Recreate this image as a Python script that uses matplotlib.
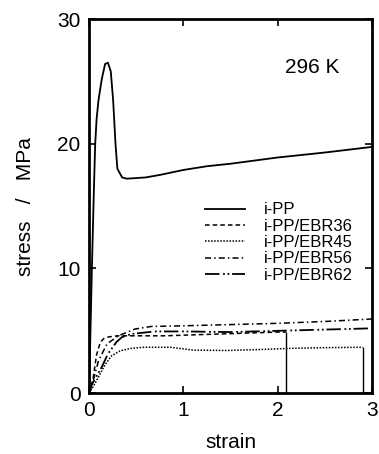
import matplotlib
matplotlib.use('Agg')
import matplotlib.pyplot as plt

plt.rcParams['font.family'] = ['Liberation Sans', 'DejaVu Sans']

# stress-strain curves (strain, stress / MPa)
pp_strain = [0, 0.015, 0.03, 0.05, 0.065, 0.08, 0.1, 0.135, 0.17, 0.2, 0.23,
             0.255, 0.28, 0.3, 0.35, 0.4, 0.6, 0.75, 1.0, 1.25, 1.5, 2.0, 2.5, 3.0]
pp_stress = [0, 5.0, 10.0, 16.0, 20.0, 22.0, 23.5, 25.2, 26.4, 26.5, 25.8,
             23.5, 20.0, 18.0, 17.3, 17.2, 17.3, 17.5, 17.9, 18.2, 18.4, 18.9, 19.3, 19.75]

ebr36_strain = [0, 0.02, 0.045, 0.08, 0.12, 0.16, 0.2, 0.3, 0.5, 0.8, 1.2, 1.6, 2.0, 2.09]
ebr36_stress = [0, 0.5, 1.3, 3.1, 4.1, 4.4, 4.5, 4.6, 4.6, 4.6, 4.7, 4.8, 4.9, 4.9]

ebr45_strain = [0, 0.05, 0.1, 0.17, 0.24, 0.33, 0.45, 0.58, 0.86, 1.11, 1.46, 1.8, 2.17, 2.5, 2.9]
ebr45_stress = [0, 0.6, 1.3, 2.3, 3.0, 3.4, 3.6, 3.68, 3.68, 3.45, 3.42, 3.5, 3.6, 3.65, 3.68]

ebr56_strain = [0, 0.04, 0.1, 0.19, 0.31, 0.49, 0.66, 1.0, 1.5, 2.0, 2.5, 3.0]
ebr56_stress = [0, 0.9, 2.6, 3.95, 4.6, 5.15, 5.35, 5.4, 5.5, 5.6, 5.75, 5.95]

ebr62_strain = [0, 0.03, 0.135, 0.2, 0.29, 0.35, 0.45, 0.7, 1.0, 1.5, 2.0, 2.5, 3.0]
ebr62_stress = [0, 0.7, 2.1, 3.15, 4.1, 4.5, 4.75, 4.95, 4.95, 4.9, 5.0, 5.1, 5.2]

labels = ['i-PP', 'i-PP/EBR36', 'i-PP/EBR45', 'i-PP/EBR56', 'i-PP/EBR62']
styles = ['-', (0, (3, 2)), (0, (1, 1)), (0, (4, 2, 1, 2)), (0, (8, 2, 1, 1.5, 1, 1.5))]

fig = plt.figure(figsize=(3.79, 4.54), dpi=100)
ax = fig.add_axes([0.235, 0.134, 0.747, 0.824])

curves = [(pp_strain, pp_stress), (ebr36_strain, ebr36_stress),
          (ebr45_strain, ebr45_stress), (ebr56_strain, ebr56_stress),
          (ebr62_strain, ebr62_stress)]
for (x, y), lab, ls in zip(curves, labels, styles):
    lw = 1.3 if lab in ('i-PP', 'i-PP/EBR62') else 1.1
    ax.plot(x, y, color='black', linestyle=ls, linewidth=lw, label=lab)

# samples that broke before the end of the test: drop to zero
for x, y in [(ebr36_strain, ebr36_stress), (ebr45_strain, ebr45_stress)]:
    ax.vlines(x[-1], 0, y[-1], color='black', linewidth=1.0)

ax.set_xlim(0, 3)
ax.set_ylim(0, 30)
ax.set_xticks([0, 1, 2, 3])
ax.set_yticks([0, 10, 20, 30])
ax.tick_params(direction='in', length=5, width=1.2, top=True, right=True,
               labelsize=15, pad=6)
for s in ax.spines.values():
    s.set_linewidth(2.0)

ax.set_xlabel('strain', fontsize=15, labelpad=9)
ax.set_ylabel('stress   /   MPa', fontsize=15, labelpad=16)
ax.text(0.79, 0.87, '296 K', transform=ax.transAxes, fontsize=15,
        ha='center', va='center')

ax.legend(loc='upper left', bbox_to_anchor=(0.41, 0.51), frameon=False,
          fontsize=12, handlelength=2.4, handletextpad=1.1, labelspacing=0.08,
          borderpad=0, borderaxespad=0)

fig.savefig('out.png', dpi=100)
